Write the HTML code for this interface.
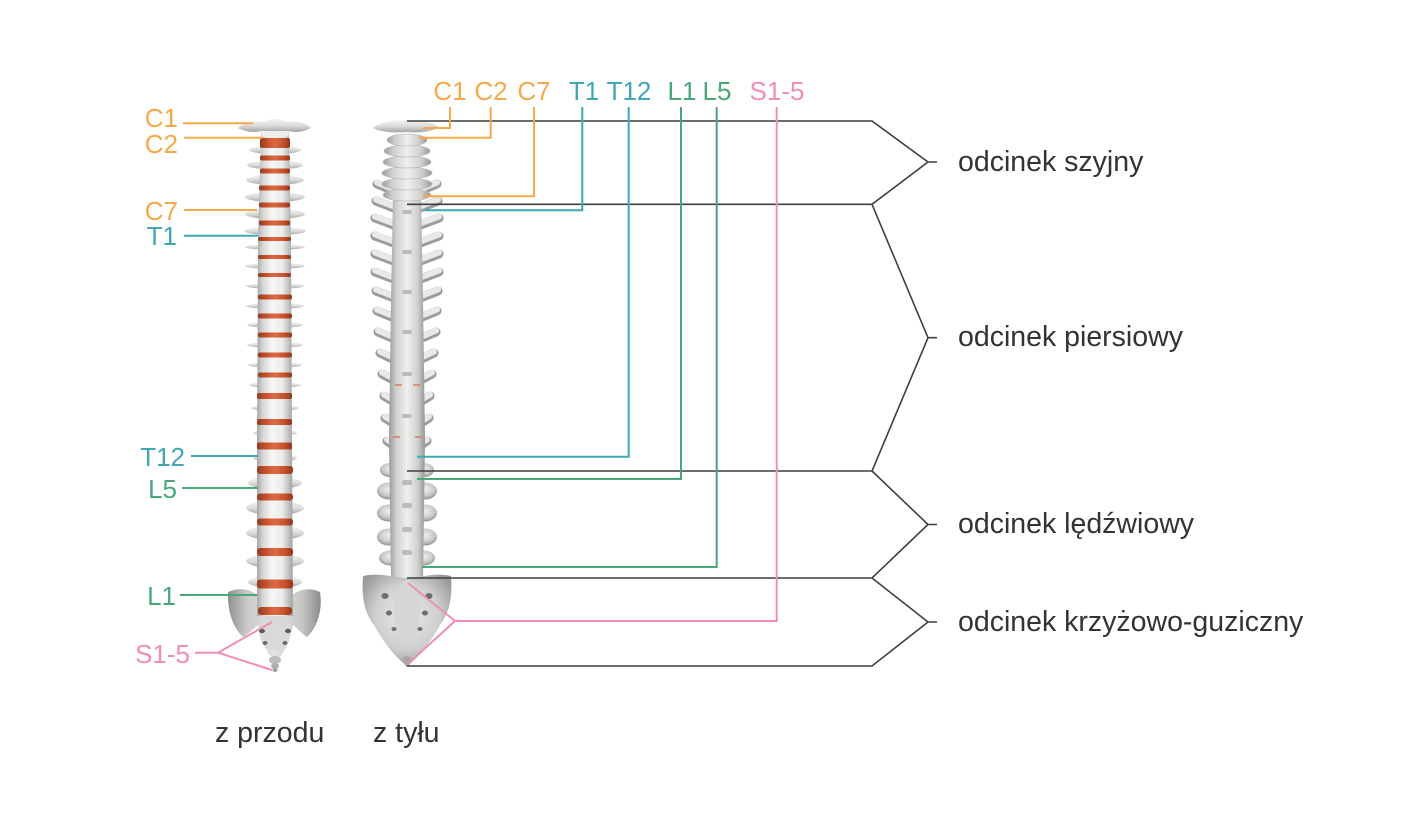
<!DOCTYPE html>
<html lang="pl">
<head>
<meta charset="utf-8">
<style>
  html, body { margin:0; padding:0; background:#ffffff; }
  body { width:1421px; height:821px; overflow:hidden; }
  svg { display:block; }
  .lbl { font-family:"Liberation Sans", Arial, sans-serif; font-size:26px; }
  .big { font-family:"Liberation Sans", Arial, sans-serif; font-size:28.5px; fill:#333333; }
</style>
</head>
<body>
<svg width="1421" height="821" viewBox="0 0 1421 821" xmlns="http://www.w3.org/2000/svg">
  <defs>
    <linearGradient id="gB" x1="0" x2="1" y1="0" y2="0">
      <stop offset="0" stop-color="#a6a6a4"/>
      <stop offset="0.15" stop-color="#d3d3d1"/>
      <stop offset="0.42" stop-color="#f7f7f5"/>
      <stop offset="0.7" stop-color="#ececea"/>
      <stop offset="1" stop-color="#a2a2a0"/>
    </linearGradient>
    <linearGradient id="gB2" x1="0" x2="1" y1="0" y2="0">
      <stop offset="0" stop-color="#9a9a98"/>
      <stop offset="0.2" stop-color="#cfcfcd"/>
      <stop offset="0.5" stop-color="#efefed"/>
      <stop offset="0.8" stop-color="#cfcfcd"/>
      <stop offset="1" stop-color="#959593"/>
    </linearGradient>
    <linearGradient id="gD" x1="0" x2="1" y1="0" y2="0">
      <stop offset="0" stop-color="#95391f"/>
      <stop offset="0.3" stop-color="#cd5731"/>
      <stop offset="0.5" stop-color="#de6940"/>
      <stop offset="0.8" stop-color="#c34f2b"/>
      <stop offset="1" stop-color="#8e361e"/>
    </linearGradient>
    <linearGradient id="gW" x1="0" x2="0" y1="0" y2="1">
      <stop offset="0" stop-color="#f3f3f1"/>
      <stop offset="0.5" stop-color="#dcdcda"/>
      <stop offset="1" stop-color="#a4a4a2"/>
    </linearGradient>
    <linearGradient id="gP" x1="0" x2="1" y1="0" y2="0">
      <stop offset="0" stop-color="#8f8f8d"/>
      <stop offset="0.2" stop-color="#c9c9c7"/>
      <stop offset="0.5" stop-color="#e2e2e0"/>
      <stop offset="0.8" stop-color="#c6c6c4"/>
      <stop offset="1" stop-color="#8c8c8a"/>
    </linearGradient>
    <radialGradient id="gS" cx="0.5" cy="0.45" r="0.6">
      <stop offset="0" stop-color="#e9e9e7"/>
      <stop offset="0.6" stop-color="#cfcfcd"/>
      <stop offset="1" stop-color="#9a9a98"/>
    </radialGradient>
    <radialGradient id="gL" cx="0.5" cy="0.4" r="0.6">
      <stop offset="0" stop-color="#efefed"/>
      <stop offset="0.65" stop-color="#c9c9c7"/>
      <stop offset="1" stop-color="#8f8f8d"/>
    </radialGradient>
  </defs>

  <rect x="0" y="0" width="1421" height="821" fill="#ffffff"/>

  <!-- ================= FRONT SPINE ================= -->
  <g id="front">
    <path d="M228,592 C240,587 252,589 260,597 L290,597 C298,589 310,587 320,592 C323,610 317,628 307,637 C301,633 297,628 293,625 L289,641 L283,653 L276,662 L268,653 L262,641 L258,625 C254,628 250,633 243,637 C233,628 227,610 228,592 Z" fill="url(#gP)"/>
    <ellipse cx="275" cy="630" rx="16" ry="20" fill="#d9d9d7"/>
    <ellipse cx="262" cy="631" rx="3" ry="2.2" fill="#5c5c5a"/>
    <ellipse cx="288" cy="631" rx="3" ry="2.2" fill="#5c5c5a"/>
    <ellipse cx="265" cy="643" rx="2.5" ry="2" fill="#6a6a68"/>
    <ellipse cx="285" cy="643" rx="2.5" ry="2" fill="#6a6a68"/>
    <ellipse cx="275" cy="660" rx="6" ry="4" fill="#bdbdbb"/>
    <ellipse cx="275" cy="666" rx="4" ry="3" fill="#b0b0ae"/>
    <ellipse cx="275" cy="670" rx="2.5" ry="2" fill="#a0a09e"/>

    <g fill="url(#gW)">
      <ellipse cx="275" cy="150" rx="26" ry="4"/>
      <ellipse cx="275" cy="165" rx="28" ry="4.5"/>
      <ellipse cx="275" cy="180" rx="29" ry="5"/>
      <ellipse cx="275" cy="197" rx="30" ry="5"/>
      <ellipse cx="275" cy="214" rx="30" ry="5"/>
      <ellipse cx="275" cy="231" rx="31" ry="4"/>
      <ellipse cx="275" cy="247" rx="30" ry="2.8"/>
      <ellipse cx="275" cy="266" rx="30" ry="2.8"/>
      <ellipse cx="275" cy="286" rx="29" ry="2.8"/>
      <ellipse cx="275" cy="306" rx="29" ry="2.8"/>
      <ellipse cx="275" cy="325" rx="28" ry="2.8"/>
      <ellipse cx="275" cy="345" rx="28" ry="2.8"/>
      <ellipse cx="275" cy="365" rx="27" ry="2.8"/>
      <ellipse cx="275" cy="385" rx="26" ry="2.8"/>
      <ellipse cx="275" cy="408" rx="24" ry="2.8"/>
      <ellipse cx="275" cy="433" rx="22" ry="2.8"/>
      <ellipse cx="275" cy="458" rx="22" ry="4"/>
      <ellipse cx="275" cy="483" rx="27" ry="6"/>
      <ellipse cx="275" cy="508" rx="29" ry="7"/>
      <ellipse cx="275" cy="533" rx="29" ry="7"/>
      <ellipse cx="275" cy="561" rx="29" ry="7"/>
      <ellipse cx="275" cy="582" rx="27" ry="6"/>
    </g>

    <path d="M261,132 L289,132 L291,240 L292,440 L293,616 L257,616 L257,440 L258,240 Z" fill="url(#gB)"/>
    <ellipse cx="275" cy="134" rx="14" ry="4" fill="#eeeeec"/>

    <path d="M238,128 C244,122 256,121 264,122 C270,118 280,118 286,122 C296,121 306,122 311,128 C304,132 296,133 288,131 L262,131 C254,133 245,132 238,128 Z" fill="url(#gW)"/>

    <g fill="url(#gD)">
      <rect x="260" y="138" width="30" height="10" rx="2"/>
      <rect x="260" y="155.5" width="30" height="5" rx="2"/>
      <rect x="260" y="168.5" width="30" height="5" rx="2"/>
      <rect x="259" y="185.5" width="31" height="5" rx="2"/>
      <rect x="259" y="202.5" width="31" height="5" rx="2"/>
      <rect x="259" y="220.5" width="31" height="5" rx="2"/>
      <rect x="258" y="237" width="33" height="4" rx="2"/>
      <rect x="258" y="255" width="33" height="4" rx="2"/>
      <rect x="258" y="273" width="33" height="4" rx="2"/>
      <rect x="258" y="294.5" width="34" height="5" rx="2"/>
      <rect x="258" y="313.5" width="34" height="5" rx="2"/>
      <rect x="258" y="332.5" width="34" height="5" rx="2"/>
      <rect x="258" y="352.5" width="34" height="5" rx="2"/>
      <rect x="258" y="372.5" width="34" height="5" rx="2"/>
      <rect x="257" y="393" width="35" height="6" rx="2"/>
      <rect x="257" y="419" width="35" height="6" rx="2"/>
      <rect x="257" y="442.5" width="35" height="7" rx="2"/>
      <rect x="257" y="466" width="36" height="8" rx="3"/>
      <rect x="257" y="493.5" width="36" height="7" rx="3"/>
      <rect x="257" y="518.5" width="36" height="7" rx="3"/>
      <rect x="257" y="548" width="36" height="8" rx="3"/>
      <rect x="257" y="579.5" width="36" height="9" rx="3"/>
      <rect x="258" y="607" width="34" height="8" rx="3"/>
    </g>
  </g>

  <!-- ================= BACK SPINE ================= -->
  <g id="back">
    <g stroke-linecap="round" fill="none">
      <g stroke="#9c9c9a" stroke-width="9">
        <path d="M399,193 L377,184 M415,193 L437,184"/>
        <path d="M399,210 L376,201 M415,210 L438,201"/>
        <path d="M399,227 L375,218 M415,227 L439,218"/>
        <path d="M399,245 L375,236 M415,245 L439,236"/>
        <path d="M399,263 L375,254 M415,263 L439,254"/>
        <path d="M399,281 L375,272 M415,281 L439,272"/>
        <path d="M399,300 L376,291 M415,300 L438,291"/>
        <path d="M399,320 L377,311 M415,320 L437,311"/>
        <path d="M399,341 L378,332 M415,341 L436,332"/>
        <path d="M399,362 L380,353 M415,362 L434,353"/>
        <path d="M399,383 L382,374 M415,383 L432,374"/>
        <path d="M399,405 L384,396 M415,405 L430,396"/>
        <path d="M399,427 L385,418 M415,427 L429,418"/>
        <path d="M399,449 L387,441 M415,449 L427,441"/>
      </g>
      <g stroke="#e9e9e7" stroke-width="6">
        <path d="M399,191.5 L377,182.5 M415,191.5 L437,182.5"/>
        <path d="M399,208.5 L376,199.5 M415,208.5 L438,199.5"/>
        <path d="M399,225.5 L375,216.5 M415,225.5 L439,216.5"/>
        <path d="M399,243.5 L375,234.5 M415,243.5 L439,234.5"/>
        <path d="M399,261.5 L375,252.5 M415,261.5 L439,252.5"/>
        <path d="M399,279.5 L375,270.5 M415,279.5 L439,270.5"/>
        <path d="M399,298.5 L376,289.5 M415,298.5 L438,289.5"/>
        <path d="M399,318.5 L377,309.5 M415,318.5 L437,309.5"/>
        <path d="M399,339.5 L378,330.5 M415,339.5 L436,330.5"/>
        <path d="M399,360.5 L380,351.5 M415,360.5 L434,351.5"/>
        <path d="M399,381.5 L382,372.5 M415,381.5 L432,372.5"/>
        <path d="M399,403.5 L384,394.5 M415,403.5 L430,394.5"/>
        <path d="M399,425.5 L385,416.5 M415,425.5 L429,416.5"/>
        <path d="M399,447.5 L387,439.5 M415,447.5 L427,439.5"/>
      </g>
    </g>

    <g fill="url(#gL)">
      <ellipse cx="390" cy="470" rx="10" ry="7"/>
      <ellipse cx="424" cy="470" rx="10" ry="7"/>
      <ellipse cx="389" cy="491" rx="12" ry="8.5"/>
      <ellipse cx="425" cy="491" rx="12" ry="8.5"/>
      <ellipse cx="389" cy="513" rx="12" ry="8.5"/>
      <ellipse cx="425" cy="513" rx="12" ry="8.5"/>
      <ellipse cx="389" cy="537" rx="12" ry="8.5"/>
      <ellipse cx="425" cy="537" rx="12" ry="8.5"/>
      <ellipse cx="390" cy="558" rx="11" ry="7.5"/>
      <ellipse cx="424" cy="558" rx="11" ry="7.5"/>
    </g>

    <path d="M393,195 L421,195 L423,300 L425,440 L423,580 L391,580 L389,440 L391,300 Z" fill="url(#gB2)"/>
    <g fill="#b4b4b2" opacity="0.85">
      <rect x="402" y="210" width="10" height="4" rx="2"/>
      <rect x="402" y="250" width="10" height="4" rx="2"/>
      <rect x="402" y="290" width="10" height="4" rx="2"/>
      <rect x="402" y="330" width="10" height="4" rx="2"/>
      <rect x="402" y="372" width="10" height="4" rx="2"/>
      <rect x="402" y="414" width="10" height="4" rx="2"/>
      <rect x="402" y="480" width="10" height="5" rx="2"/>
      <rect x="402" y="503" width="10" height="5" rx="2"/>
      <rect x="402" y="527" width="10" height="5" rx="2"/>
      <rect x="402" y="550" width="10" height="5" rx="2"/>
    </g>
    <g fill="#d9775a" opacity="0.7">
      <rect x="395" y="384" width="7" height="2"/>
      <rect x="413" y="384" width="7" height="2"/>
      <rect x="393" y="436" width="7" height="2"/>
      <rect x="415" y="436" width="7" height="2"/>
    </g>

    <g fill="url(#gB2)" stroke="#bdbdbb" stroke-width="0.8">
      <ellipse cx="407" cy="195" rx="24" ry="6"/>
      <ellipse cx="407" cy="184" rx="25" ry="6"/>
      <ellipse cx="407" cy="173" rx="25" ry="6"/>
      <ellipse cx="407" cy="162" rx="24" ry="6"/>
      <ellipse cx="407" cy="151" rx="23" ry="6"/>
      <ellipse cx="407" cy="140" rx="20" ry="6"/>
    </g>
    <path d="M373,128 C380,122 395,120 407,120 C420,120 433,122 439,127 C432,132 420,133 407,132 C394,133 380,132 373,128 Z" fill="url(#gW)"/>

    <path d="M363,576 C380,572 395,578 407,578 C420,578 435,572 451,576 C453,600 448,615 440,625 C432,640 420,655 412,662 L407,667 L402,662 C394,655 382,640 374,625 C366,615 361,600 363,576 Z" fill="url(#gS)"/>
    <ellipse cx="407" cy="612" rx="13" ry="32" fill="#d6d6d4"/>
    <g fill="#6d6d6b">
      <ellipse cx="385" cy="596" rx="3.5" ry="3"/>
      <ellipse cx="429" cy="596" rx="3.5" ry="3"/>
      <ellipse cx="389" cy="613" rx="3" ry="2.5"/>
      <ellipse cx="425" cy="613" rx="3" ry="2.5"/>
      <ellipse cx="394" cy="629" rx="2.5" ry="2"/>
      <ellipse cx="420" cy="629" rx="2.5" ry="2"/>
    </g>
    <ellipse cx="407" cy="660" rx="5" ry="4" fill="#a9a9a7"/>
  </g>

  <!-- ================= CONNECTORS ================= -->
  <g stroke="#3f3f3f" stroke-width="1.6" fill="none" stroke-linejoin="miter">
    <path d="M407,121 L872,121 L928,162 L872,204.3 L407,204.3"/>
    <path d="M872,204.3 L928,337.7 L872,471 L407,471"/>
    <path d="M872,471 L928,524.5 L872,578 L407,578"/>
    <path d="M872,578 L928,622 L872,666 L407,666"/>
    <path d="M928,162 L937,162 M928,337.7 L937,337.7 M928,524.5 L937,524.5 M928,622 L937,622"/>
  </g>

  <g fill="none" stroke-width="2">
    <path d="M450,107 L450,128 L423,128" stroke="#f6a84a"/>
    <path d="M490.7,107 L490.7,137.7 L418,137.7" stroke="#f6a84a"/>
    <path d="M534,107 L534,196.3 L423,196.3" stroke="#f6a84a"/>
    <path d="M582.3,107 L582.3,210.3 L425,210.3" stroke="#3fa8b4"/>
    <path d="M628.7,107 L628.7,456.7 L417,456.7" stroke="#3fa8b4"/>
    <path d="M681,107 L681,479 L417,479" stroke="#48a878"/>
    <path d="M716.7,107 L716.7,567 L422,567" stroke="#48a878"/>
    <path d="M776.7,107 L776.7,621 L455,621 M408,583 L455,621 L409,663" stroke="#f28dbb"/>
  </g>

  <g fill="none" stroke-width="2">
    <path d="M183,123.3 L253,123.3" stroke="#f6a84a"/>
    <path d="M184,137.7 L262,137.7" stroke="#f6a84a"/>
    <path d="M184,210 L257,210" stroke="#f6a84a"/>
    <path d="M184,235.7 L258,235.7" stroke="#3fa8b4"/>
    <path d="M191,456 L258,456" stroke="#3fa8b4"/>
    <path d="M182,488 L258,488" stroke="#48a878"/>
    <path d="M180,595 L257,595" stroke="#48a878"/>
    <path d="M195,652.7 L218,652.7 L272,622 M218,652.7 L272,670" stroke="#f28dbb"/>
  </g>

  <!-- ================= LABELS ================= -->
  <g class="lbl" text-anchor="middle">
    <text x="450" y="100" fill="#f6a84a">C1</text>
    <text x="491" y="100" fill="#f6a84a">C2</text>
    <text x="534" y="100" fill="#f6a84a">C7</text>
    <text x="584" y="100" fill="#3fa8b4">T1</text>
    <text x="629" y="100" fill="#3fa8b4">T12</text>
    <text x="682" y="100" fill="#48a878">L1</text>
    <text x="717" y="100" fill="#48a878">L5</text>
    <text x="777" y="100" fill="#f28dbb">S1-5</text>
  </g>
  <g class="lbl" text-anchor="end">
    <text x="178" y="127" fill="#f6a84a">C1</text>
    <text x="178" y="153" fill="#f6a84a">C2</text>
    <text x="178" y="220" fill="#f6a84a">C7</text>
    <text x="177" y="245" fill="#3fa8b4">T1</text>
    <text x="185" y="466" fill="#3fa8b4">T12</text>
    <text x="177" y="498" fill="#48a878">L5</text>
    <text x="176" y="605" fill="#48a878">L1</text>
    <text x="190" y="663" fill="#f28dbb">S1-5</text>
  </g>

  <g class="big">
    <text x="958" y="171">odcinek szyjny</text>
    <text x="958" y="346">odcinek piersiowy</text>
    <text x="958" y="533">odcinek lędźwiowy</text>
    <text x="958" y="631">odcinek krzyżowo-guziczny</text>
    <text x="215" y="742">z przodu</text>
    <text x="373" y="742">z tyłu</text>
  </g>
</svg>
</body>
</html>
